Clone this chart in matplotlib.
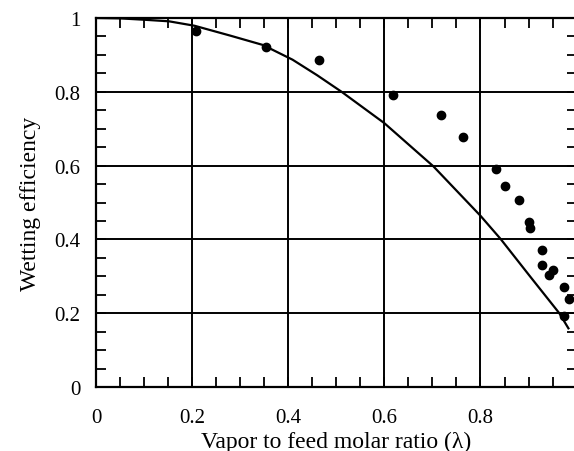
import matplotlib.pyplot as plt
from matplotlib.ticker import MultipleLocator

plt.rcParams['font.family'] = ['Liberation Serif', 'DejaVu Serif']

# measured points
lam_pts = [0.209, 0.353, 0.463, 0.618, 0.718, 0.763, 0.832, 0.852, 0.880,
           0.900, 0.904, 0.929, 0.928, 0.950, 0.943, 0.974, 0.985, 0.974]
eff_pts = [0.966, 0.922, 0.886, 0.791, 0.737, 0.677, 0.590, 0.544, 0.507,
           0.446, 0.430, 0.372, 0.330, 0.316, 0.304, 0.270, 0.238, 0.193]

# model curve
lam_curve = [0.0, 0.05, 0.104, 0.152, 0.205, 0.28, 0.347, 0.409, 0.46, 0.511,
             0.6, 0.702, 0.8, 0.842, 0.903, 0.964, 0.983]
eff_curve = [1.0, 0.999, 0.995, 0.991, 0.979, 0.952, 0.927, 0.887, 0.845, 0.800,
             0.715, 0.598, 0.464, 0.401, 0.300, 0.200, 0.159]

xticks = [0, 0.2, 0.4, 0.6, 0.8]
yticks = [0, 0.2, 0.4, 0.6, 0.8, 1]

fig = plt.figure(figsize=(5.74, 4.52), dpi=100)
ax = fig.add_axes([96 / 574, 1 - 388 / 452, 480.6 / 574, 369 / 452])

ax.set_xlim(0, 1.0)
ax.set_ylim(0, 1.0)
ax.set_xticks(xticks)
ax.set_xticklabels(['0', '0.2', '0.4', '0.6', '0.8'])
ax.set_yticks(yticks)
ax.set_yticklabels(['0', '0.2', '0.4', '0.6', '0.8', '1'])
ax.xaxis.set_minor_locator(MultipleLocator(0.05))
ax.yaxis.set_minor_locator(MultipleLocator(0.05))
ax.tick_params(which='both', direction='in', top=True, right=True,
               labelsize=15, width=1.3, colors='black', length=7)
ax.tick_params(axis='x', pad=15)
ax.tick_params(axis='y', pad=11)
ax.grid(True, which='major', color='black', linewidth=1.4)
for s in ax.spines.values():
    s.set_linewidth(1.6)

ax.plot(lam_curve, eff_curve, '-', color='black', linewidth=1.6)
ax.plot(lam_pts, eff_pts, 'o', color='black', markersize=6)

ax.set_xlabel('Vapor to feed molar ratio (λ)', fontsize=17, labelpad=3)
ax.set_ylabel('Wetting efficiency', fontsize=17, labelpad=10)

fig.savefig('out.png', dpi=100)
